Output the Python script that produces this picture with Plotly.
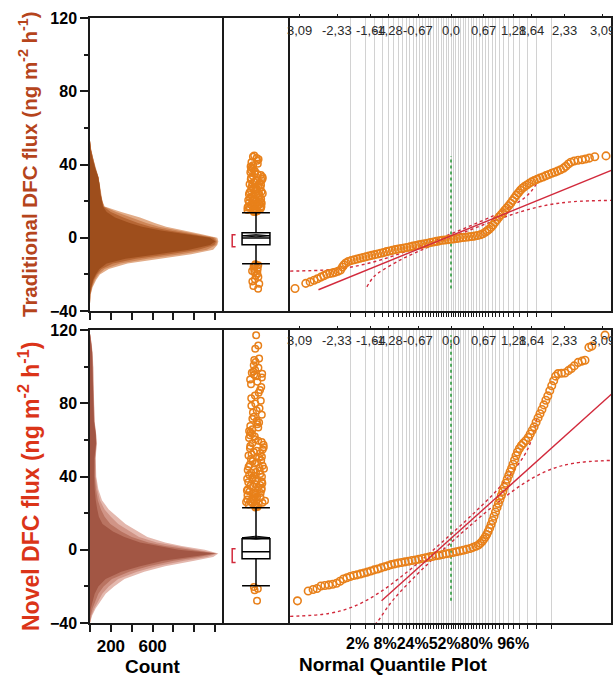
import plotly.graph_objects as go
from statistics import NormalDist

# ------------------------------------------------------------------ data
# Histogram layers (counts)
hist_top_y = [-36, -31, -27, -23, -20, -17, -14, -11.5, -9, -6.5, -4, -2, 0, 2, 4, 6, 8, 11, 14, 17, 20, 24, 28, 33, 38, 43, 48, 53]
hist_top_outer = [0, 7, 25, 60, 95, 180, 360, 650, 970, 1180, 1220, 1230, 1220, 1060, 880, 730, 620, 480, 300, 140, 120, 105, 97, 82, 55, 32, 12, 0]
hist_top_mid1 = [0, 5, 20, 48, 80, 140, 290, 550, 870, 1120, 1210, 1220, 1200, 1020, 830, 660, 540, 400, 250, 135, 118, 103, 96, 81, 53, 30, 11, 0]
hist_top_mid2 = [0, 2, 16, 38, 65, 110, 220, 440, 760, 1040, 1190, 1210, 1180, 960, 760, 580, 460, 320, 200, 130, 116, 101, 95, 80, 51, 28, 9, 0]
hist_top_core = [0, 0, 12, 30, 55, 90, 160, 340, 650, 950, 1150, 1200, 1150, 900, 680, 500, 380, 240, 160, 125, 115, 100, 94, 79, 50, 25, 8, 0]

hist_bot_y = [-40, -36, -32, -28, -24, -20, -16, -12, -9, -6, -4, -2, 0, 2, 4, 7, 10, 14, 18, 22, 27, 33, 40, 50, 58, 63, 70, 80, 90, 100, 108, 114, 118]
hist_bot_outer = [0, 20, 55, 100, 150, 230, 330, 520, 720, 1000, 1180, 1230, 1100, 880, 720, 550, 460, 340, 260, 180, 115, 80, 60, 55, 65, 60, 45, 38, 35, 32, 25, 12, 0]
hist_bot_mid1 = [0, 14, 42, 80, 118, 180, 270, 450, 640, 900, 1120, 1220, 1020, 800, 640, 470, 380, 270, 200, 140, 95, 70, 55, 52, 63, 58, 43, 36, 33, 30, 23, 11, 0]
hist_bot_mid2 = [0, 7, 25, 50, 80, 130, 210, 375, 560, 800, 1040, 1210, 940, 720, 560, 400, 300, 195, 140, 105, 75, 57, 47, 47, 60, 56, 40, 34, 31, 29, 21, 9, 0]
hist_bot_core = [0, 0, 8, 25, 45, 80, 150, 300, 480, 700, 950, 1200, 850, 650, 480, 330, 220, 120, 85, 70, 55, 45, 40, 42, 58, 55, 38, 32, 30, 28, 20, 8, 0]

count_ticks = [0, 200, 400, 600, 800, 1000, 1200]
count_ticktext = ["", "200", "", "600", "", "", ""]

# Box plots: [lower whisker, Q1, median, Q3, upper whisker]
box_top = [-14.2, -3.8, -0.2, 2.7, 13.6]
box_bot = [-19.6, -4.9, -1.1, 6.0, 22.9]
mean_top = [1.1, 0.5, 1.7]      # mean, lower / upper 95% limit (means diamond)
mean_bot = [6.6, 5.8, 7.4]
shorth_top = [-4.9, 1.6]
shorth_bot = [-7.0, 0.5]

out_top = [14.0, 14.2, 14.4, 14.5, 14.8, 15.0, 15.1, 15.3, 15.6, 15.8, 16.0, 16.2, 16.5, 16.7, 17.0, 17.2, 17.5, 17.8, 18.0,
           18.3, 18.6, 18.9, 19.2, 19.5, 19.8, 20.2, 20.5, 20.8, 21.2, 21.5, 21.9, 22.2, 22.6, 23.0, 23.3, 23.7, 24.1, 24.5,
           24.9, 25.3, 25.8, 26.2, 26.6, 27.0, 27.5, 27.9, 28.3, 28.8, 29.2, 29.7, 30.1, 30.5, 31.0, 31.4, 31.9, 32.3, 32.8,
           33.2, 33.7, 34.2, 34.7, 35.2, 35.8, 36.3, 36.9, 37.5, 38.2, 38.9, 39.6, 40.4, 41.2, 42.0, 42.8, 43.5, 44.2, 44.9,
           -14.5, -15.0, -15.4, -15.9, -16.5, -17.0, -17.6, -18.2, -18.9, -19.7, -20.6, -21.5, -22.7, -23.9, -25.1, -26.4, -27.8]
out_bot = [23.1, 23.4, 23.8, 24.0, 24.3, 24.7, 25.0, 25.4, 25.7, 26.1, 26.4, 26.8, 27.1, 27.5, 27.9, 28.2, 28.6, 29.0, 29.4,
           29.8, 30.2, 30.6, 31.0, 31.4, 31.8, 32.3, 32.7, 33.1, 33.6, 34.0, 34.5, 34.9, 35.4, 35.9, 36.3, 36.8, 37.3, 37.8,
           38.3, 38.8, 39.3, 39.8, 40.4, 40.9, 41.4, 42.0, 42.5, 43.1, 43.6, 44.2, 44.8, 45.3, 45.9, 46.5, 47.1, 47.7, 48.3,
           48.9, 49.5, 50.2, 50.8, 51.4, 52.1, 52.7, 53.4, 54.0, 54.7, 55.4, 56.0, 56.7, 57.4, 58.1, 58.8, 59.5, 60.3, 61.0,
           61.8, 62.5, 63.3, 64.1, 64.9, 65.8, 66.7, 67.6, 68.5, 69.5, 70.5, 71.5, 72.6, 73.7, 74.9, 76.1, 77.3, 78.6, 79.9,
           81.3, 82.7, 84.2, 85.7, 87.3, 88.9, 90.4, 91.8, 93.0, 94.0, 94.8, 95.5, 96.1, 96.6, 97.3, 98.2, 99.4, 100.8, 102.5,
           103.6, 104.4, 109.8, 111.5, 117.2,
           -20.4, -21.3, -22.1, -27.8]

# Normal quantile plots: (normal quantile, value) pairs
q_top_z = [-3.19, -2.97, -2.88, -2.80, -2.73, -2.66, -2.60, -2.54, -2.48, -2.42, -2.37, -2.31, -2.26, -2.22, -2.19, -2.15, -2.10,
           -2.04, -1.98, -1.92, -1.86, -1.80, -1.74, -1.68, -1.62, -1.56, -1.50, -1.44, -1.38, -1.32, -1.26, -1.20, -1.14, -1.08,
           -1.02, -0.96, -0.90, -0.84, -0.78, -0.72, -0.66, -0.60, -0.54, -0.48, -0.42, -0.36, -0.30, -0.24, -0.18, -0.12, -0.06,
           0.00, 0.06, 0.12, 0.18, 0.24, 0.30, 0.36, 0.42, 0.48, 0.54, 0.60, 0.65, 0.70, 0.74, 0.78, 0.82, 0.86, 0.90, 0.94, 0.98,
           1.02, 1.06, 1.10, 1.14, 1.18, 1.22, 1.26, 1.30, 1.34, 1.38, 1.42, 1.46, 1.50, 1.55, 1.60, 1.65, 1.70, 1.76, 1.82, 1.88,
           1.94, 2.00, 2.06, 2.12, 2.18, 2.24, 2.30, 2.35, 2.40, 2.45, 2.52, 2.60, 2.68, 2.75, 2.83, 2.94, 3.17]
q_top_v = [-27.7, -24.9, -24.1, -23.2, -22.4, -21.5, -20.7, -19.9, -19.5, -19.2, -18.8, -18.3, -17.6, -16.0, -14.8, -13.8, -13.0,
           -12.4, -12.0, -11.6, -11.2, -10.8, -10.4, -10.0, -9.6, -9.2, -8.9, -8.5, -8.1, -7.6, -7.2, -6.9, -6.5, -6.2,
           -5.9, -5.6, -5.3, -5.0, -4.6, -4.3, -3.9, -3.6, -3.3, -3.0, -2.6, -2.3, -2.0, -1.7, -1.4, -1.2, -1.0,
           -0.8, -0.6, -0.4, -0.1, 0.1, 0.3, 0.5, 0.7, 0.9, 1.2, 1.6, 2.2, 3.0, 3.8, 4.6, 5.7, 7.0, 8.4, 9.8, 11.2,
           12.5, 13.7, 15.0, 16.2, 17.5, 18.8, 20.3, 21.8, 23.3, 24.6, 25.9, 27.0, 27.9, 28.8, 29.7, 30.5, 31.2, 31.9, 32.6, 33.2,
           33.9, 34.5, 35.2, 35.8, 36.4, 37.1, 38.0, 39.0, 40.3, 41.2, 41.9, 42.3, 42.6, 43.0, 43.5, 44.2, 44.7]

q_bot_z = [-3.14, -2.92, -2.82, -2.74, -2.66, -2.58, -2.50, -2.42, -2.34, -2.27, -2.20, -2.13, -2.06, -1.99, -1.92, -1.85, -1.78,
           -1.71, -1.64, -1.57, -1.50, -1.43, -1.36, -1.29, -1.22, -1.15, -1.08, -1.01, -0.94, -0.87, -0.80, -0.73, -0.66, -0.59,
           -0.52, -0.45, -0.38, -0.31, -0.24, -0.17, -0.10, -0.03, 0.04, 0.11, 0.18, 0.25, 0.32, 0.39, 0.45, 0.51, 0.56, 0.60,
           0.64, 0.67, 0.70, 0.73, 0.76, 0.79, 0.82, 0.85, 0.88, 0.91, 0.94, 0.97, 1.00, 1.03, 1.06, 1.09, 1.12, 1.15, 1.18, 1.21,
           1.24, 1.27, 1.30, 1.33, 1.36, 1.40, 1.44, 1.48, 1.53, 1.58, 1.62, 1.66, 1.70, 1.74, 1.78, 1.82, 1.86, 1.90, 1.94, 1.98,
           2.02, 2.06, 2.10, 2.14, 2.19, 2.26, 2.33, 2.40, 2.46, 2.52, 2.60, 2.68, 2.74, 2.82, 2.88, 3.15]
q_bot_v = [-27.9, -22.5, -21.7, -21.2, -19.8, -19.5, -19.2, -18.8, -18.3, -17.2, -16.0, -15.3, -14.6, -14.1, -13.7, -13.2, -12.7,
           -12.2, -11.6, -11.0, -10.5, -9.9, -9.3, -8.7, -8.1, -7.7, -7.3, -7.0, -6.6, -6.3, -5.9, -5.6, -5.2, -4.8,
           -4.4, -4.0, -3.7, -3.3, -3.0, -2.6, -2.2, -1.9, -1.5, -1.1, -0.7, -0.3, 0.2, 0.7, 1.3, 1.9, 2.6, 3.5,
           4.6, 5.8, 7.0, 8.3, 10.0, 11.8, 13.8, 16.0, 18.3, 20.6, 23.0, 25.3, 27.4, 29.6, 31.8, 34.1, 36.3, 38.5, 40.6, 42.6,
           44.5, 46.7, 49.0, 51.4, 53.4, 55.3, 56.9, 58.2, 59.6, 61.3, 63.2, 65.1, 67.1, 69.6, 72.0, 74.3, 76.6, 79.1, 81.6, 84.0,
           86.8, 89.6, 92.3, 94.8, 96.2, 96.4, 96.5, 97.8, 99.0, 100.4, 102.3, 103.0, 103.5, 110.5, 111.2, 117.2]

# Fitted normal line and Lilliefors confidence bands
fit_top_z, fit_top_v = [-2.71, 3.28], [-28.4, 36.8]
fit_bot_z, fit_bot_v = [-1.42, 3.28], [-27.9, 84.9]
band_top_up_z = [-3.29, -2.5, -2.0, -1.5, -1.0, -0.5, 0.0, 0.5, 1.0, 1.5, 1.65, 1.76]
band_top_up_v = [-18.2, -17.5, -15.8, -12.6, -8.2, -3.2, 2.1, 7.7, 13.8, 21.7, 25.7, 30.0]
band_top_lo_z = [-1.72, -1.6, -1.5, -1.0, -0.5, 0.0, 0.5, 1.0, 1.5, 2.0, 2.5, 3.28]
band_top_lo_v = [-26.8, -21.9, -19.5, -11.6, -5.5, 0.1, 5.4, 10.4, 14.8, 18.0, 19.7, 20.4]
band_bot_up_z = [-3.29, -2.5, -2.0, -1.5, -1.0, -0.5, 0.0, 0.5, 1.0, 1.5, 1.65, 1.76]
band_bot_up_v = [-36.4, -34.8, -31.1, -24.0, -14.3, -3.3, 8.5, 20.8, 34.3, 51.6, 60.4, 72.0]
band_bot_lo_z = [-1.56, -1.5, -1.25, -1.0, -0.5, 0.0, 0.5, 1.0, 1.5, 2.0, 2.5, 3.28]
band_bot_lo_v = [-41.0, -39.2, -29.6, -21.9, -8.4, 3.9, 15.7, 26.7, 36.4, 43.5, 47.2, 48.8]
range_top = [-27.7, 44.7]
range_bot = [-27.9, 117.2]

# Axis labels
quantile_tick_z = [-3.09, -2.33, -1.64, -1.28, -0.67, 0.0, 0.67, 1.28, 1.64, 2.33, 3.09]
quantile_tick_text = ["3,09", "-2,33", "-1,64", "-1,28", "-0,67", "0,0", "0,67", "1,28", "1,64", "2,33", "3,09"]
prob_grid = [p / 100 for p in range(2, 100, 2)]
prob_label_text = "2% 8%24%52%80% 96%"
y_ticks = [-40, 0, 40, 80, 120]
y_minor = [-20, 20, 60, 100]

# ------------------------------------------------------------------ layout helpers
W, H = 613, 677
ORANGE = "#E8801A"
RED = "#D22A3C"
GREEN = "#2E9B3E"
FRAME = "#1a1a1a"


def fx(p):
    return p / W


def fy(p):
    return 1 - p / H


XH = [fx(90), fx(222)]
XB = [fx(222), fx(290)]
XQ = [fx(290), fx(611)]
YT = [fy(311), fy(18)]
YB = [fy(623), fy(330)]
ZR = [(290 - 451) / 48.9, (611 - 451) / 48.9]
grid_z = [NormalDist().inv_cdf(p) for p in prob_grid]

fig = go.Figure()

top_hist_colors = ["rgb(226,172,136)", "rgb(206,134,88)", "rgb(182,102,52)", "rgb(158,78,28)"]
bot_hist_colors = ["rgb(228,184,174)", "rgb(208,148,134)", "rgb(185,115,97)", "rgb(162,86,68)"]

for cnts, col in zip([hist_top_outer, hist_top_mid1, hist_top_mid2, hist_top_core], top_hist_colors):
    fig.add_trace(go.Scatter(x=cnts, y=hist_top_y, mode="lines", fill="tozerox", fillcolor=col,
                             line=dict(width=0, color=col), xaxis="x", yaxis="y", hoverinfo="skip"))
for cnts, col in zip([hist_bot_outer, hist_bot_mid1, hist_bot_mid2, hist_bot_core], bot_hist_colors):
    fig.add_trace(go.Scatter(x=cnts, y=hist_bot_y, mode="lines", fill="tozerox", fillcolor=col,
                             line=dict(width=0, color=col), xaxis="x4", yaxis="y4", hoverinfo="skip"))

marker_open = dict(symbol="circle-open", size=6.5, color=ORANGE, line=dict(width=1.5, color=ORANGE))

for stats, mdi, pts, shorth, xa, ya in [(box_top, mean_top, out_top, shorth_top, "x2", "y2"),
                                         (box_bot, mean_bot, out_bot, shorth_bot, "x5", "y5")]:
    fig.add_trace(go.Box(y=pts, x0=0, boxpoints="all", jitter=1, pointpos=0, width=0.6,
                         fillcolor="rgba(0,0,0,0)", line=dict(color="rgba(0,0,0,0)", width=0),
                         marker=marker_open, xaxis=xa, yaxis=ya, hoverinfo="skip"))
    fig.add_trace(go.Box(x=[0], lowerfence=[stats[0]], q1=[stats[1]], median=[stats[2]], q3=[stats[3]],
                         upperfence=[stats[4]], width=0.82, whiskerwidth=1, fillcolor="white",
                         line=dict(color="black", width=1.5), boxpoints=False, xaxis=xa, yaxis=ya))
    # means diamond
    fig.add_trace(go.Scatter(x=[-0.41, 0, 0.41, 0, -0.41, 0.41], y=[mdi[0], mdi[2], mdi[0], mdi[1], mdi[0], mdi[0]],
                             mode="lines", line=dict(color="black", width=1), xaxis=xa, yaxis=ya, hoverinfo="skip"))
    fig.add_trace(go.Scatter(x=[-0.6, -0.7, -0.7, -0.6], y=[shorth[1], shorth[1], shorth[0], shorth[0]],
                             mode="lines", line=dict(color=RED, width=1.5), xaxis=xa, yaxis=ya, hoverinfo="skip"))

for (qz, qv, fz, fv, uz, uv, lz, lv, rng, xa, ya) in [
        (q_top_z, q_top_v, fit_top_z, fit_top_v, band_top_up_z, band_top_up_v, band_top_lo_z, band_top_lo_v, range_top, "x3", "y3"),
        (q_bot_z, q_bot_v, fit_bot_z, fit_bot_v, band_bot_up_z, band_bot_up_v, band_bot_lo_z, band_bot_lo_v, range_bot, "x6", "y6")]:
    fig.add_trace(go.Scatter(x=[0, 0], y=rng, mode="lines", line=dict(color=GREEN, width=1.6, dash="dot"),
                             xaxis=xa, yaxis=ya, hoverinfo="skip"))
    fig.add_trace(go.Scatter(x=uz, y=uv, mode="lines", line=dict(color=RED, width=1.4, dash="dot", shape="spline"),
                             xaxis=xa, yaxis=ya, hoverinfo="skip"))
    fig.add_trace(go.Scatter(x=lz, y=lv, mode="lines", line=dict(color=RED, width=1.4, dash="dot", shape="spline"),
                             xaxis=xa, yaxis=ya, hoverinfo="skip"))
    fig.add_trace(go.Scatter(x=qz, y=qv, mode="markers", marker=dict(symbol="circle-open", size=7.5, color=ORANGE,
                             line=dict(width=1.6, color=ORANGE)), xaxis=xa, yaxis=ya, hoverinfo="skip"))
    fig.add_trace(go.Scatter(x=fz, y=fv, mode="lines", line=dict(color=RED, width=1.4),
                             xaxis=xa, yaxis=ya, hoverinfo="skip"))

# empty traces so the top tick axes are drawn
fig.add_trace(go.Scatter(x=[], y=[], xaxis="x7", yaxis="y3"))
fig.add_trace(go.Scatter(x=[], y=[], xaxis="x8", yaxis="y6"))

tickfont = dict(family="Liberation Sans, Arial", size=16, color="black", weight="bold")
LINE = dict(linecolor=FRAME, linewidth=1.5)


def yaxis_main(domain, anchor):
    return dict(domain=domain, anchor=anchor, range=[-40, 120], tickvals=y_ticks, ticks="outside",
                ticklen=8, tickwidth=1.5, tickcolor=FRAME, tickfont=tickfont, automargin=False,
                minor=dict(tickvals=y_minor, ticks="outside", ticklen=4, tickwidth=1.5, tickcolor=FRAME),
                showline=True, mirror=True, zeroline=False, showgrid=False, **LINE)


def yaxis_hidden(domain, anchor, line):
    return dict(domain=domain, anchor=anchor, range=[-40, 120], showticklabels=False, ticks="", automargin=False,
                showline=line, mirror=line, zeroline=False, showgrid=False, **LINE)


def xaxis_hist(domain, anchor, labels):
    return dict(domain=domain, anchor=anchor, range=[0, 1265], tickvals=count_ticks, ticktext=count_ticktext,
                ticks="outside", ticklen=7, tickwidth=1.5, tickcolor=FRAME, showticklabels=labels, automargin=False,
                tickfont=dict(family="Liberation Sans, Arial", size=17, color="black", weight="bold"),
                showline=True, mirror=True, zeroline=False, showgrid=False, **LINE)


def xaxis_box(domain, anchor):
    return dict(domain=domain, anchor=anchor, range=[-1, 1], showticklabels=False, ticks="", automargin=False,
                showline=True, mirror=True, zeroline=False, showgrid=False, **LINE)


def xaxis_q(domain, anchor):
    return dict(domain=domain, anchor=anchor, range=ZR, tickvals=grid_z, ticks="outside", ticklen=4,
                tickwidth=1.2, tickcolor=FRAME, showticklabels=False, automargin=False,
                showline=True, mirror=True, zeroline=False, showgrid=True, gridcolor="#d2d2d2", gridwidth=1, **LINE)


def xaxis_qtop(overlay, anchor):
    return dict(overlaying=overlay, anchor=anchor, side="top", range=ZR, tickvals=quantile_tick_z,
                ticks="outside", ticklen=3, tickwidth=1.2, tickcolor=FRAME, showticklabels=False,
                automargin=False, showgrid=False, zeroline=False, showline=False)


fig.update_layout(
    width=W, height=H, margin=dict(l=0, r=0, t=0, b=0, autoexpand=False), paper_bgcolor="white",
    plot_bgcolor="white", showlegend=False, boxmode="overlay",
    xaxis=xaxis_hist(XH, "y", False), yaxis=yaxis_main(YT, "x"),
    xaxis2=xaxis_box(XB, "y2"), yaxis2=yaxis_hidden(YT, "x2", False),
    xaxis3=xaxis_q(XQ, "y3"), yaxis3=yaxis_hidden(YT, "x3", True),
    xaxis4=xaxis_hist(XH, "y4", True), yaxis4=yaxis_main(YB, "x4"),
    xaxis5=xaxis_box(XB, "y5"), yaxis5=yaxis_hidden(YB, "x5", False),
    xaxis6=xaxis_q(XQ, "y6"), yaxis6=yaxis_hidden(YB, "x6", True),
    xaxis7=xaxis_qtop("x3", "y3"), xaxis8=xaxis_qtop("x6", "y6"),
)

ann = []
for ypx, xa in [(31, "x3"), (340, "x6")]:
    for zv, txt in zip(quantile_tick_z, quantile_tick_text):
        ann.append(dict(x=zv, xref=xa, y=fy(ypx), yref="paper", text=txt, showarrow=False,
                        xanchor="center", yanchor="middle",
                        font=dict(family="Liberation Sans, Arial", size=13, color="#2a2a2a")))
ann.append(dict(x=fx(437), y=fy(643), xref="paper", yref="paper", text=prob_label_text, showarrow=False,
                xanchor="center", yanchor="middle",
                font=dict(family="Liberation Sans, Arial", size=16, color="black", weight="bold")))
ann.append(dict(x=fx(153), y=fy(666), xref="paper", yref="paper", text="Count", showarrow=False,
                xanchor="center", yanchor="middle",
                font=dict(family="Liberation Sans, Arial", size=19, color="black", weight="bold")))
ann.append(dict(x=fx(393), y=fy(664), xref="paper", yref="paper", text="Normal Quantile Plot", showarrow=False,
                xanchor="center", yanchor="middle",
                font=dict(family="Liberation Sans, Arial", size=19, color="black", weight="bold")))
ann.append(dict(x=fx(28), y=fy(164), xref="paper", yref="paper", textangle=-90, showarrow=False,
                xanchor="center", yanchor="middle",
                text="Traditional DFC flux (ng m<sup>-2</sup> h<sup>-1</sup>)",
                font=dict(family="Liberation Sans Narrow, Arial Narrow, Liberation Sans", size=20.5,
                          color="#B5441C", weight="bold")))
ann.append(dict(x=fx(29), y=fy(487), xref="paper", yref="paper", textangle=-90, showarrow=False,
                xanchor="center", yanchor="middle",
                text="Novel DFC flux (ng m<sup>-2</sup> h<sup>-1</sup>)",
                font=dict(family="Liberation Sans, Arial", size=23, color="#DB3418", weight="bold")))
fig.update_layout(annotations=ann)

fig.write_html("out.html")
